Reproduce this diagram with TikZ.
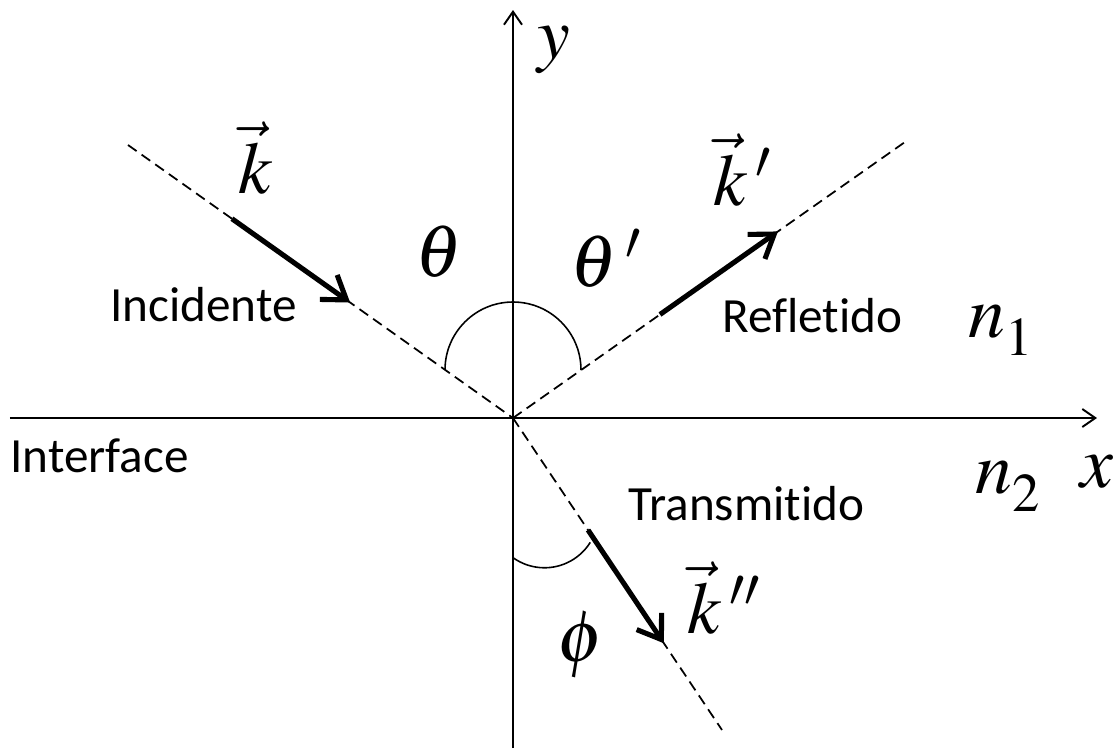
\documentclass[tikz,border=0pt]{standalone}
\usepackage{mathptmx}
\usepackage[no-math]{fontspec}
\newfontfamily\labelfont[Ligatures={NoCommon,NoRequired}]{Carlito}
\usetikzlibrary{arrows.meta, calc}

\begin{document}
\begin{tikzpicture}[
    x=0.2mm, y=0.2mm,
    axis/.style={-{Straight Barb[length=2.6mm, width=3.6mm]}, line width=1.1pt},
    ray/.style={dash pattern=on 6pt off 3.5pt, line width=1pt},
    wavevec/.style={-{Straight Barb[length=4.4mm, width=6mm]}, line width=2.9pt},
    anglearc/.style={line width=0.9pt},
    txt/.style={font=\labelfont\fontsize{28}{34}\selectfont, inner sep=0pt, anchor=base west},
    sym/.style={font=\fontsize{42}{50}\selectfont, inner sep=0pt, anchor=base west}
]
\useasboundingbox (-513,-330) rectangle (605,418);

% 1. Axes
\coordinate (O) at (0,0);
\coordinate (xl) at (-503,0);
\coordinate (xr) at (584,0);
\coordinate (yb) at (0,-330);
\coordinate (yt) at (0,408);
\draw[axis] (xl) -- (xr);
\draw[axis] (yb) -- (yt);

% 2. Rays
\coordinate (inc) at (-385,273);
\coordinate (refl) at (392,276);
\coordinate (trans) at (209,-312);
\draw[ray] (inc) -- (O);
\draw[ray] (O) -- (refl);
\draw[ray] (O) -- (trans);

% 3. Wave vectors
\draw[wavevec] ($(inc)!0.27!(O)$) -- ($(inc)!0.577!(O)$);
\draw[wavevec] ($(O)!0.375!(refl)$) -- ($(O)!0.676!(refl)$);
\draw[wavevec] ($(O)!0.359!(trans)$) -- ($(O)!0.722!(trans)$);

% 4. Angles
\draw[anglearc] (-68,48) arc[start angle=180, end angle=0, radius=68];
\draw[anglearc] (0.5,-140) arc[start angle=235, end angle=328, radius=54];

% 5. Symbols
\node[sym] (kinc) at (-275,225) {$\vec{k}$};
\node[sym] (kref) at (200,213) {$\vec{k}\,'$};
\node[sym] (ktra) at (174,-215) {$\vec{k}\,''$};
\node[sym] (th) at (-98,142) {$\theta$};
\node[sym] (thp) at (57,132) {$\theta\,'$};
\node[sym, anchor=center] (ph) at (68,-227) {$\phi$};
\node[sym] (n1) at (455,81) {$n_{\raisebox{-4pt}{$\scriptstyle 1$}}$};
\node[sym] (n2) at (462,-75) {$n_{\raisebox{-4pt}{$\scriptstyle 2$}}$};
\node[sym] (xlab) at (567,-69) {$x$};
\node[sym] (ylab) at (24,360) {$y$};

% 6. Texts
\node[txt] (incid) at (-403,97) {Incidente};
\node[txt] (iface) at (-503,-54) {Interface};
\node[txt] (refle) at (209,86) {Refletido};
\node[txt] (trans) at (115,-102) {Transmitido};

\end{tikzpicture}
\end{document}
